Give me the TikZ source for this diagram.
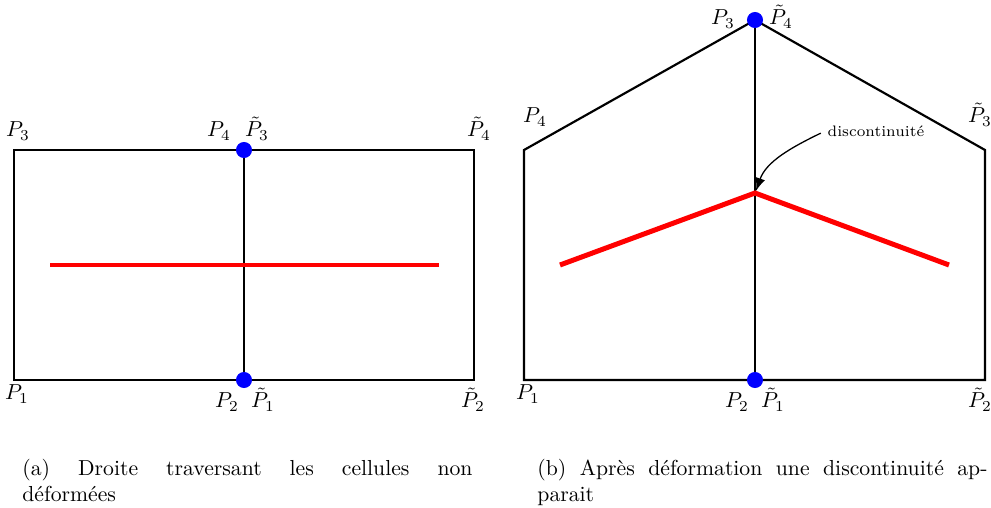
\documentclass[tikz,border=0pt]{standalone}
\usetikzlibrary{arrows.meta}
\begin{document}
\begin{tikzpicture}[x=0.4608pt,y=-0.4608pt,
  edge/.style={line width=1pt, black},
  redl/.style={line width=2.3pt, red},
  dot/.style={circle, fill=blue, inner sep=0pt, minimum size=7.4pt},
  lab/.style={anchor=base, inner sep=0pt},
  capt/.style={anchor=north west, text width=207.4pt, align=justify, inner sep=0pt}]
\useasboundingbox (0,0) rectangle (991,508);
% ---------- left panel ----------
\coordinate (a1) at (14,380);
\coordinate (a2) at (244,380);
\coordinate (a6) at (474,380);
\coordinate (a3) at (14,150);
\coordinate (a4) at (244,150);
\coordinate (a5) at (474,150);
\coordinate (ra) at (50,265);
\coordinate (rb) at (439,265);
\draw[edge] (a1) -- (a6) -- (a5) -- (a3) -- cycle;
\draw[edge] (a2) -- (a4);
\draw[redl] (ra) -- (rb);
\node[dot] (da) at (a4) {};
\node[dot] (db) at (a2) {};
\node[lab] (la1) at (18,137) {$P_3$};
\node[lab] (la2) at (219,137) {$P_4$};
\node[lab] (la3) at (257,137) {$\tilde{P}_3$};
\node[lab] (la4) at (479,137) {$\tilde{P}_4$};
\node[lab] (la5) at (17,400) {$P_1$};
\node[lab] (la6) at (227,408) {$P_2$};
\node[lab] (la7) at (263,408) {$\tilde{P}_1$};
\node[lab] (la8) at (473,408) {$\tilde{P}_2$};
% ---------- right panel ----------
\coordinate (b1) at (524,380);
\coordinate (b2) at (755,380);
\coordinate (b3) at (985,380);
\coordinate (b4) at (985,150);
\coordinate (b5) at (755,20);
\coordinate (b6) at (524,150);
\coordinate (rc) at (560,265);
\coordinate (rd) at (755,193);
\coordinate (re) at (949,265);
\draw[edge] (b1) -- (b3) -- (b4) -- (b5) -- (b6) -- cycle;
\draw[edge] (b2) -- (b5);
\draw[redl] (rc) -- (rd) -- (re);
\node[dot] (dc) at (b5) {};
\node[dot] (dd) at (b2) {};
\node[lab] (lb1) at (723,25) {$P_3$};
\node[lab] (lb2) at (781,25) {$\tilde{P}_4$};
\node[lab] (lb3) at (535,123) {$P_4$};
\node[lab] (lb4) at (980,123) {$\tilde{P}_3$};
\node[lab] (lb5) at (528,400) {$P_1$};
\node[lab] (lb6) at (737,408) {$P_2$};
\node[lab] (lb7) at (773,408) {$\tilde{P}_1$};
\node[lab] (lb8) at (980,408) {$\tilde{P}_2$};
\node[inner sep=1pt, font=\scriptsize] (disc) at (876,131) {discontinuité};
\coordinate (tip) at (756,191);
\draw[line width=0.6pt, -{Latex[length=6pt,width=4.5pt]}]
  ([xshift=-2pt,yshift=-1pt]disc.west) .. controls (790,148) and (766,162) .. (tip);
% ---------- captions ----------
\node[capt] (capa) at (22,459) {(a) Droite traversant les cellules non\linebreak déformées};
\node[capt] (capb) at (537,459) {(b) Après déformation une discontinuité ap-\linebreak parait};
\end{tikzpicture}
\end{document}
